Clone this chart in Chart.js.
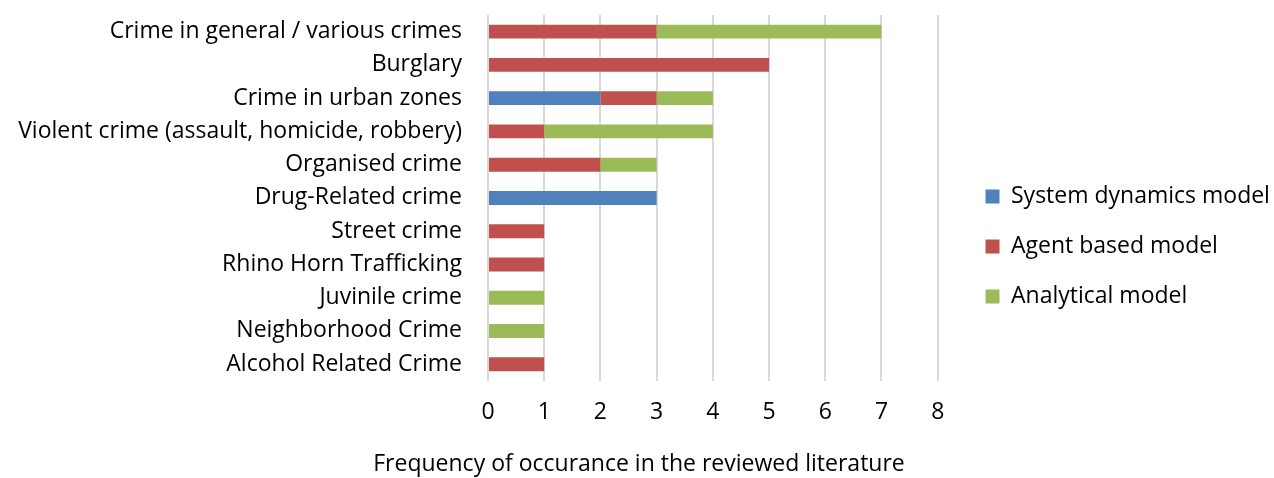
<!DOCTYPE html>
<html>
<head>
<meta charset="utf-8">
<script src="https://cdn.jsdelivr.net/npm/chart.js@4/dist/chart.umd.min.js"></script>
<style>
  html, body { margin: 0; padding: 0; background: #fff; }
  #wrap { width: 1274px; height: 478px; }
</style>
</head>
<body>
<div id="wrap"><canvas id="chart"></canvas></div>
<script>
const crimeTypes = [
  'Crime in general / various crimes',
  'Burglary',
  'Crime in urban zones',
  'Violent crime (assault, homicide, robbery)',
  'Organised crime',
  'Drug-Related crime',
  'Street crime',
  'Rhino Horn Trafficking',
  'Juvinile crime',
  'Neighborhood Crime',
  'Alcohol Related Crime'
];
const systemDynamics = [0, 0, 2, 0, 0, 3, 0, 0, 0, 0, 0];
const agentBased     = [3, 5, 1, 1, 2, 0, 1, 1, 0, 0, 1];
const analytical     = [4, 0, 1, 3, 1, 0, 0, 0, 1, 1, 0];
const xTicks = [0, 1, 2, 3, 4, 5, 6, 7, 8];

const FONT = '"Open Sans", Lato, sans-serif';
const FS = 23;
Chart.defaults.font.family = FONT;
Chart.defaults.font.size = FS;
Chart.defaults.color = '#000';

const bar = (label, data, color) => ({
  label, data,
  backgroundColor: color,
  borderWidth: 0,
  barPercentage: 0.42,
  categoryPercentage: 1
});

new Chart(document.getElementById('chart'), {
  type: 'bar',
  data: {
    labels: crimeTypes,
    datasets: [
      bar('System dynamics model', systemDynamics, '#4F81BD'),
      bar('Agent based model', agentBased, '#C0504D'),
      bar('Analytical model', analytical, '#9BBB59')
    ]
  },
  options: {
    indexAxis: 'y',
    responsive: true,
    maintainAspectRatio: false,
    animation: false,
    layout: { padding: { top: 15, right: -4, left: 0, bottom: 0 } },
    scales: {
      x: {
        stacked: true,
        min: 0,
        // a little room past 8 keeps the gap before the legend
        max: 8.37,
        afterBuildTicks: s => { s.ticks = xTicks.map(v => ({ value: v })); },
        grid: { color: '#D9D9D9', lineWidth: 2, drawTicks: false },
        border: { display: false },
        ticks: { padding: 18, font: { size: FS } }
      },
      y: {
        stacked: true,
        grid: { display: false, drawTicks: false },
        border: { display: false },
        ticks: { padding: 26, font: { size: FS }, autoSkip: false },
        afterFit: s => {
          // fixed label column; labels are right-aligned against the bars
          s.width = 488;
          s.paddingTop = 0;
          s.paddingBottom = 0;
        }
      }
    },
    plugins: {
      legend: {
        position: 'right',
        labels: {
          boxWidth: 14,
          boxHeight: 14,
          padding: 27,
          font: { size: FS }
        }
      },
      title: {
        display: true,
        position: 'bottom',
        text: 'Frequency of occurance in the reviewed literature',
        font: { size: FS, weight: 'normal' },
        padding: { top: 6, bottom: 0 }
      },
      tooltip: { enabled: false }
    }
  }
});
</script>
</body>
</html>
